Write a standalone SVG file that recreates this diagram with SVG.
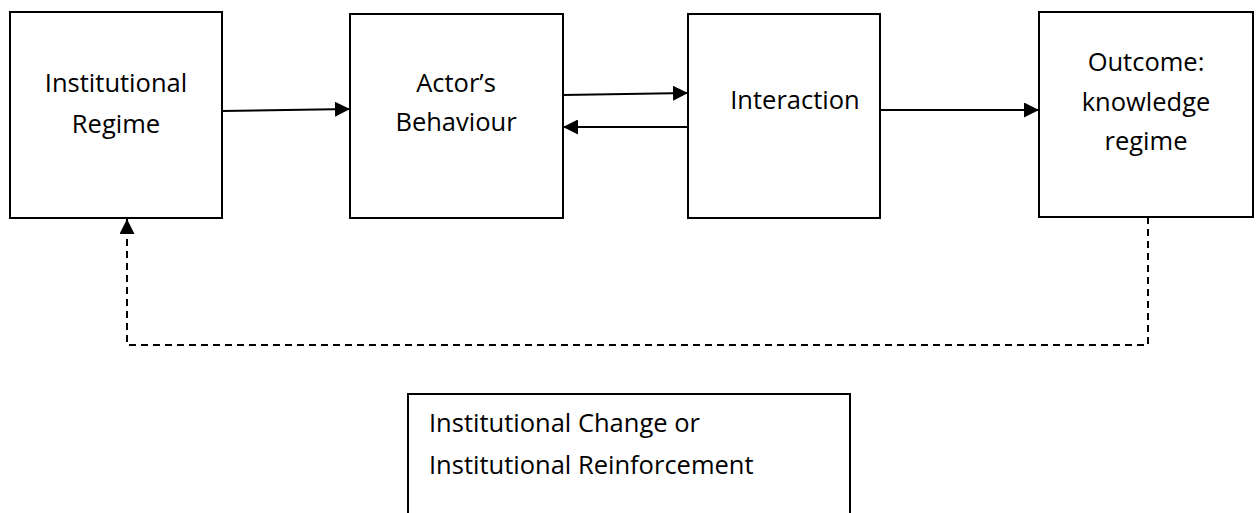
<svg xmlns="http://www.w3.org/2000/svg" width="1260" height="513" viewBox="0 0 1260 513">
<defs>
<style>
.box{fill:#fff;stroke:#000;stroke-width:2}
.t{font-family:"Open Sans","Liberation Sans",sans-serif;font-size:25.5px;fill:#000}
.c{text-anchor:middle}
.ln{stroke:#000;stroke-width:2;fill:none}
.dash{stroke:#000;stroke-width:2;fill:none;stroke-dasharray:7,5}
</style>
<marker id="ah" viewBox="0 0 10 10" refX="10" refY="5" markerWidth="15" markerHeight="15" markerUnits="userSpaceOnUse" orient="auto">
<path d="M0,0 L10,5 L0,10 z" fill="#000"/>
</marker>
</defs>
<g id="n1"><rect class="box" x="10" y="12" width="212" height="206"/>
<text class="t c" x="116" y="92">Institutional</text><text class="t c" x="116" y="133">Regime</text></g>
<g id="n2"><rect class="box" x="350" y="14" width="213" height="204"/>
<text class="t c" x="456" y="92">Actor’s</text><text class="t c" x="456" y="131">Behaviour</text></g>
<g id="n3"><rect class="box" x="688" y="14" width="192" height="204"/>
<text class="t c" x="795" y="109">Interaction</text></g>
<g id="n4"><rect class="box" x="1039" y="12" width="214" height="205"/>
<text class="t c" x="1146" y="71">Outcome:</text><text class="t c" x="1146" y="111">knowledge</text><text class="t c" x="1146" y="150">regime</text></g>
<g id="n5"><rect class="box" x="408" y="394" width="442" height="130"/>
<text class="t" x="429" y="432">Institutional Change or</text><text class="t" x="429" y="474">Institutional Reinforcement</text></g>
<g id="connectors">
<line class="ln" x1="222" y1="111" x2="350" y2="109" marker-end="url(#ah)"/>
<line class="ln" x1="563" y1="95" x2="688" y2="93" marker-end="url(#ah)"/>
<line class="ln" x1="688" y1="127" x2="563" y2="127" marker-end="url(#ah)"/>
<line class="ln" x1="880" y1="110" x2="1039" y2="110" marker-end="url(#ah)"/>
<polyline class="dash" points="1148,217 1148,345 127,345 127,219" marker-end="url(#ah)"/>
</g>
</svg>
